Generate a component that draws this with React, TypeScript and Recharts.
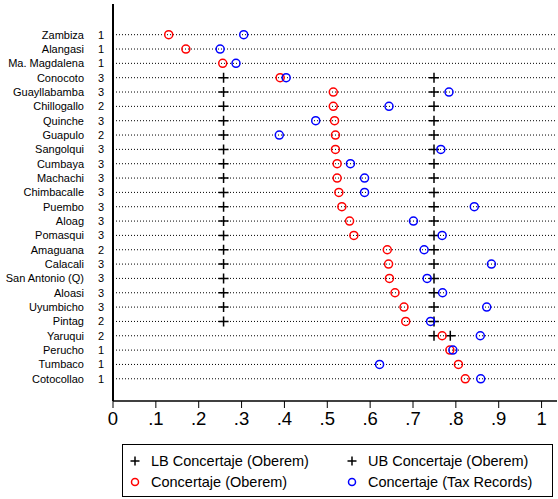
import React from 'react'
import {
  ScatterChart,
  Scatter,
  XAxis,
  YAxis,
  ReferenceLine,
} from 'recharts'

const places = [
  'Zambiza', 'Alangasi', 'Ma. Magdalena', 'Conocoto', 'Guayllabamba', 'Chillogallo',
  'Quinche', 'Guapulo', 'Sangolqui', 'Cumbaya', 'Machachi', 'Chimbacalle', 'Puembo',
  'Aloag', 'Pomasqui', 'Amaguana', 'Calacali', 'San Antonio (Q)', 'Aloasi', 'Uyumbicho',
  'Pintag', 'Yaruqui', 'Perucho', 'Tumbaco', 'Cotocollao',
]
const groups = [1, 1, 1, 3, 3, 2, 3, 2, 3, 3, 3, 3, 3, 3, 3, 2, 3, 3, 3, 3, 2, 2, 1, 1, 1]

const oberem = [
  0.130, 0.170, 0.256, 0.390, 0.514, 0.514, 0.517, 0.519, 0.519, 0.523, 0.523, 0.527, 0.534,
  0.552, 0.562, 0.640, 0.643, 0.645, 0.658, 0.679, 0.683, 0.768, 0.786, 0.806, 0.822,
]
const taxRecords = [
  0.305, 0.250, 0.287, 0.404, 0.784, 0.644, 0.473, 0.388, 0.765, 0.554, 0.587, 0.587, 0.843,
  0.701, 0.768, 0.726, 0.883, 0.733, 0.769, 0.872, 0.741, 0.857, 0.793, 0.622, 0.858,
]
const lowerBound = [
  null, null, null, 0.258, 0.258, 0.258, 0.258, 0.258, 0.258, 0.258, 0.258, 0.258, 0.258,
  0.258, 0.258, 0.258, 0.258, 0.258, 0.258, 0.258, 0.258, 0.749, null, null, null,
]
const upperBound = [
  null, null, null, 0.749, 0.749, 0.749, 0.749, 0.749, 0.749, 0.749, 0.749, 0.749, 0.749,
  0.749, 0.749, 0.749, 0.749, 0.749, 0.749, 0.749, 0.749, 0.787, null, null, null,
]
const xTicks = [0, 0.1, 0.2, 0.3, 0.4, 0.5, 0.6, 0.7, 0.8, 0.9, 1]

const FONT = '"Liberation Sans", Arial, Helvetica, sans-serif'

const toPoints = (vals: (number | null)[]) =>
  vals.map((v, i) => ({ x: v, y: i })).filter(p => p.x !== null)

const rows = places.map((_, i) => i)

const RowTick = (props: any) => {
  const { y, payload } = props
  const i = payload.value
  return (
    <g>
      <text x={84} y={y} dy="0.35em" textAnchor="end" fontSize={11} fontFamily={FONT} fill="#000">
        {places[i]}
      </text>
      <text x={101} y={y} dy="0.35em" textAnchor="middle" fontSize={11} fontFamily={FONT} fill="#000">
        {groups[i]}
      </text>
    </g>
  )
}

const ring = (color: string) => (props: any) => (
  <circle cx={props.cx} cy={props.cy} r={4} fill="none" stroke={color} strokeWidth={1.5} />
)

const Plus = (props: any) => {
  const { cx, cy } = props
  return (
    <path d={`M${cx - 5},${cy}H${cx + 5}M${cx},${cy - 5}V${cy + 5}`} stroke="#000" strokeWidth={1.5} fill="none" />
  )
}

const fmt = (v: number) => (v === 0 ? '0' : v === 1 ? '1' : '.' + Math.round(v * 10))

const LegendBox = () => (
  <div
    style={{
      position: 'absolute', left: 122, top: 444, width: 431, height: 53,
      border: '1px solid #000', boxSizing: 'border-box', fontFamily: FONT, fontSize: 14.5,
    }}
  >
    {[
      { l: 6, t: 8, sym: 'plus', color: '#000', text: 'LB Concertaje (Oberem)' },
      { l: 223, t: 8, sym: 'plus', color: '#000', text: 'UB Concertaje (Oberem)' },
      { l: 6, t: 29, sym: 'ring', color: '#f00', text: 'Concertaje (Oberem)' },
      { l: 223, t: 29, sym: 'ring', color: '#00f', text: 'Concertaje (Tax Records)' },
    ].map((it, k) => (
      <div key={k} style={{ position: 'absolute', left: it.l, top: it.t, display: 'flex', alignItems: 'center', whiteSpace: 'nowrap' }}>
        <svg width={12} height={12} style={{ marginRight: 10 }}>
          {it.sym === 'plus' ? (
            <path d="M1.5,6H10.5M6,1.5V10.5" stroke="#000" strokeWidth={1.5} />
          ) : (
            <circle cx={6} cy={6} r={3.5} fill="none" stroke={it.color} strokeWidth={1.5} />
          )}
        </svg>
        <span style={{ lineHeight: '16px' }}>{it.text}</span>
      </div>
    ))}
  </div>
)

export default function App() {
  return (
    <div style={{ position: 'absolute', left: 0, top: 0, width: 558, height: 499, background: '#fff' }}>
      <ScatterChart width={558} height={499} margin={{ top: 4, right: 1, bottom: 68, left: 0 }}>
        <XAxis
          xAxisId="top"
          orientation="top"
          type="number"
          dataKey="x"
          domain={[0, 1.036]}
          allowDataOverflow
          height={0}
          tick={false}
          tickLine={false}
          axisLine={{ stroke: '#555', strokeWidth: 1.5 }}
        />
        <XAxis
          type="number"
          dataKey="x"
          domain={[0, 1.036]}
          allowDataOverflow
          ticks={xTicks}
          tickFormatter={fmt}
          height={30}
          tickSize={7}
          tickMargin={4}
          tickLine={{ stroke: '#000', strokeWidth: 1 }}
          axisLine={{ stroke: '#000', strokeWidth: 1.5 }}
          tick={{ fontSize: 18.5, fontFamily: FONT, fill: '#000' }}
          interval={0}
        />
        <YAxis
          type="number"
          dataKey="y"
          domain={[-2.14, 25.55]}
          allowDataOverflow
          reversed
          ticks={rows}
          interval={0}
          width={113}
          tickLine={false}
          axisLine={{ stroke: '#000', strokeWidth: 2 }}
          tick={<RowTick />}
        />
        {rows.map(i => (
          <ReferenceLine key={i} y={i} stroke="#000" strokeWidth={1} strokeDasharray="1 2" />
        ))}
        <Scatter data={toPoints(lowerBound)} shape={Plus} isAnimationActive={false} />
        <Scatter data={toPoints(upperBound)} shape={Plus} isAnimationActive={false} />
        <Scatter data={toPoints(oberem)} shape={ring('#f00')} isAnimationActive={false} />
        <Scatter data={toPoints(taxRecords)} shape={ring('#00f')} isAnimationActive={false} />
      </ScatterChart>
      <LegendBox />
    </div>
  )
}
